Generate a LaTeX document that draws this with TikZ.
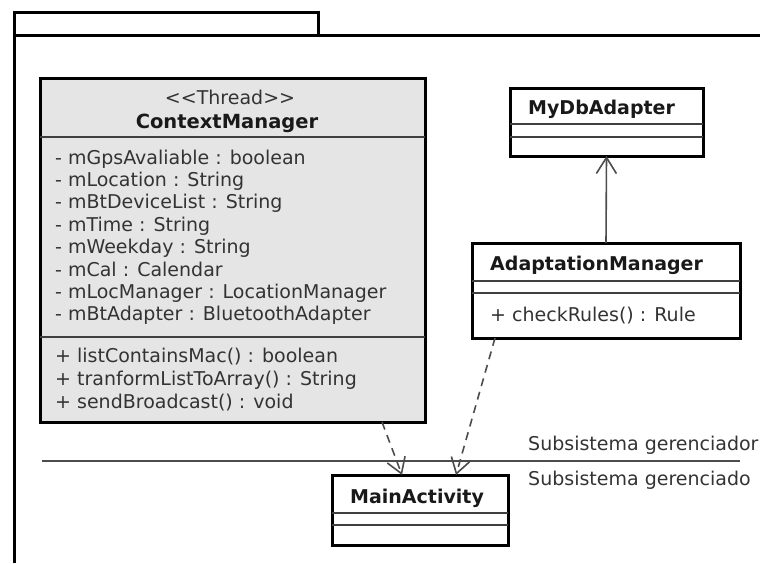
\documentclass[tikz,border=0pt]{standalone}
\usepackage{fontspec}
\setmainfont{DejaVu Sans}
\usetikzlibrary{arrows.meta,calc}
\begin{document}
\begin{tikzpicture}[x=1pt,y=-1pt,
  classbox/.style={draw=black, line width=3pt, fill=white, inner sep=0pt, outer sep=0pt},
  sepline/.style={draw=black!75, line width=1.6pt},
  frameline/.style={draw=black, line width=3pt},
  member/.style={inner sep=0pt, anchor=base west, text=black!80, font=\fontsize{19}{22}\selectfont},
  cname/.style={inner sep=0pt, anchor=base west, text=black!90, font=\fontsize{19}{22}\selectfont\bfseries},
  depend/.style={draw=black!70, line width=1.6pt, dash pattern=on 8pt off 6pt,
    -{Straight Barb[length=15pt,width=19pt,line width=1.6pt]}},
  assoc/.style={draw=black!70, line width=1.6pt,
    -{Straight Barb[length=16pt,width=20pt,line width=1.6pt]}},
  divider/.style={draw=black!70, line width=1.6pt}
]
\useasboundingbox (0,0) rectangle (760,563);

% package frame with its tab
\draw[frameline] (14,563) -- (14,12) -- (318,12) -- (318,35);
\draw[frameline] (14,35) -- (760,35);

% ContextManager
\node[classbox, fill=black!10, minimum width=385pt, minimum height=344pt] (cm) at (232.5,250) {};
\draw[sepline] (40,137) -- (425,137);
\draw[sepline] (40,337) -- (425,337);
\node[inner sep=0pt, anchor=base, text=black!80, font=\fontsize{19}{22}\selectfont] (cmst) at (230,104) {{<}{<}Thread{>}{>}};
\node[inner sep=0pt, anchor=base, text=black!90, font=\fontsize{19.5}{22}\selectfont\bfseries] (cmname) at (227,128) {ContextManager};
\foreach \t [count=\i] in {- mGpsAvaliable : boolean, - mLocation : String, - mBtDeviceList : String,
  - mTime : String, - mWeekday : String, - mCal : Calendar,
  - mLocManager : LocationManager, - mBtAdapter : BluetoothAdapter}
  \node[member] (cma\i) at (55,{164+22.4*(\i-1)}) {\t};
\foreach \t [count=\i] in {+ listContainsMac() : boolean, + tranformListToArray() : String,
  + sendBroadcast() : void}
  \node[member] (cmm\i) at (55,{362+23.3*(\i-1)}) {\t};

% MyDbAdapter
\node[classbox, minimum width=193pt, minimum height=68pt] (db) at (606.5,122) {};
\draw[sepline] (510,124) -- (703,124);
\draw[sepline] (510,137) -- (703,137);
\node[cname] (dbname) at (528,114) {MyDbAdapter};

% AdaptationManager
\node[classbox, minimum width=268pt, minimum height=95pt] (am) at (606,290.5) {};
\draw[sepline] (472,281) -- (740,281);
\draw[sepline] (472,293) -- (740,293);
\node[cname] (amname) at (490,270) {AdaptationManager};
\node[member] (amm1) at (490,321) {+ checkRules() : Rule};

% MainActivity
\node[classbox, minimum width=176pt, minimum height=70pt] (ma) at (420,510) {};
\draw[sepline] (332,513) -- (508,513);
\draw[sepline] (332,525) -- (508,525);
\node[cname] (maname) at (350,503) {MainActivity};

% boundary between the two subsystems
\coordinate (divl) at (42,461);
\coordinate (divr) at (740,461);
\draw[divider] (divl) -- (divr);
\node[member] (upper) at (528,450) {Subsistema gerenciador};
\node[member] (lower) at (528,485) {Subsistema gerenciado};

% connectors
\draw[assoc] (am.north) -- (db.south);
\path (cm.south west) ++(342,0) coordinate (cmout);
\path (am.south west) ++(23,0) coordinate (amout);
\path (ma.north west) ++(70,0) coordinate (main1);
\path (ma.north west) ++(124,0) coordinate (main2);
\draw[depend] (cmout) -- (main1);
\draw[depend] (amout) -- (main2);
\end{tikzpicture}
\end{document}
